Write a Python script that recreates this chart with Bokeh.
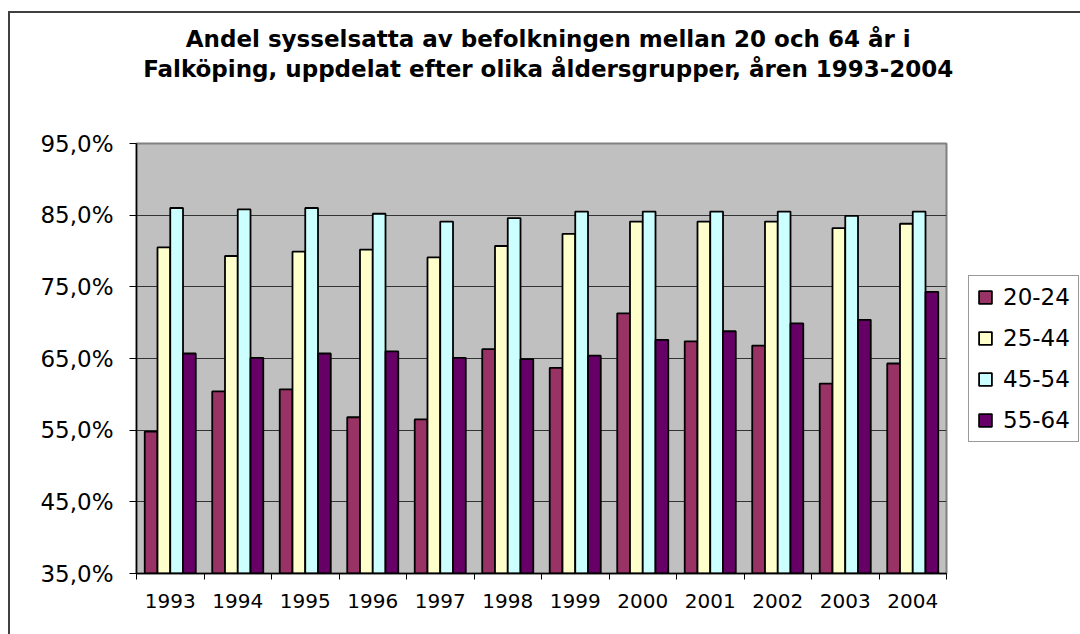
from bokeh.plotting import figure
from bokeh.models import (FixedTicker, Legend, LegendItem, LinearAxis)
from bokeh.embed import file_html
from bokeh.resources import INLINE

years = ["1993", "1994", "1995", "1996", "1997", "1998",
         "1999", "2000", "2001", "2002", "2003", "2004"]
series_names = ["20-24", "25-44", "45-54", "55-64"]
v_20_24 = [54.8, 60.4, 60.7, 56.8, 56.5, 66.3, 63.7, 71.3, 67.4, 66.8, 61.5, 64.3]
v_25_44 = [80.5, 79.3, 79.9, 80.2, 79.1, 80.7, 82.4, 84.1, 84.1, 84.1, 83.2, 83.8]
v_45_54 = [86.0, 85.8, 86.0, 85.2, 84.1, 84.6, 85.5, 85.5, 85.5, 85.5, 84.9, 85.5]
v_55_64 = [65.7, 65.1, 65.7, 66.0, 65.1, 64.9, 65.4, 67.6, 68.8, 69.9, 70.4, 74.3]
y_ticks = [35, 45, 55, 65, 75, 85, 95]
title_lines = ["Andel sysselsatta av befolkningen mellan 20 och 64 år i",
               "Falköping, uppdelat efter olika åldersgrupper, åren 1993-2004"]

colors = ["#993366", "#FFFFCC", "#CCFFFF", "#660066"]
all_values = [v_20_24, v_25_44, v_45_54, v_55_64]

FONT = "DejaVu Sans"

p = figure(frame_width=810, frame_height=430,
           output_backend="svg", toolbar_location=None,
           x_range=(0, len(years)), y_range=(35, 95),
           min_border_left=126, min_border_right=134,
           min_border_top=130, min_border_bottom=61)
p.styles = {"margin-left": "8px", "margin-top": "11px",
            "border-left": "2px solid #404040", "border-top": "2px solid #404040"}

p.background_fill_color = "#C0C0C0"
p.border_fill_color = "white"
p.outline_line_color = "#808080"
p.outline_line_width = 2

# two-line chart title drawn as label rows above the plot area
title_x = len(years) / 2 + 0.1
for line, standoff in [(title_lines[1], 62), (title_lines[0], 1)]:
    ax = LinearAxis(ticker=FixedTicker(ticks=[title_x], minor_ticks=[]),
                    major_label_overrides={title_x: line},
                    major_label_text_font=FONT, major_label_text_font_size="23px",
                    major_label_text_font_style="bold",
                    major_label_text_color="black",
                    major_label_standoff=standoff,
                    axis_line_color=None, major_tick_line_color=None,
                    minor_tick_line_color=None, major_tick_out=0, major_tick_in=0)
    p.add_layout(ax, "above")

w = 0.189
offsets = [-1.5 * w, -0.5 * w, 0.5 * w, 1.5 * w]
items = []
for name, vals, col, off in zip(series_names, all_values, colors, offsets):
    xs = [i + 0.5 + off for i in range(len(years))]
    r = p.vbar(x=xs, top=vals, bottom=35, width=w, fill_color=col,
               line_color="black", line_width=1.8)
    items.append(LegendItem(label=name, renderers=[r]))

# y axis
p.yaxis.ticker = FixedTicker(ticks=y_ticks)
p.yaxis.major_label_overrides = {t: f"{t},0%" for t in y_ticks}
p.yaxis.major_label_text_font = FONT
p.yaxis.major_label_text_font_size = "23px"
p.yaxis.major_label_text_color = "black"
p.yaxis.major_tick_out = 7
p.yaxis.major_tick_in = 0
p.yaxis.minor_tick_line_color = None
p.yaxis.axis_line_color = "black"
p.yaxis.axis_line_width = 1.5
p.yaxis.major_tick_line_color = "black"
p.yaxis.major_label_standoff = 16

# x axis (the bottom one)
xax = p.below[0]
centers = [i + 0.5 for i in range(len(years))]
xax.ticker = FixedTicker(ticks=centers, minor_ticks=list(range(len(years) + 1)))
xax.major_label_overrides = {c: y for c, y in zip(centers, years)}
xax.major_tick_line_color = None
xax.minor_tick_line_color = "black"
xax.minor_tick_out = 6
xax.minor_tick_in = 0
xax.major_label_text_font = FONT
xax.major_label_text_font_size = "20px"
xax.major_label_text_color = "black"
xax.axis_line_color = "black"
xax.axis_line_width = 1.5
xax.major_label_standoff = 14

p.xgrid.grid_line_color = None
p.ygrid.grid_line_color = "#333333"
p.ygrid.grid_line_width = 1

legend = Legend(items=items, location=(22, 131),
                label_text_font=FONT, label_text_font_size="23px",
                label_text_color="black",
                glyph_width=16, glyph_height=16, label_standoff=10,
                spacing=15, padding=8, margin=0,
                border_line_color="#333333", border_line_width=1,
                background_fill_color="white", background_fill_alpha=1)
p.add_layout(legend, "right")

open("out.html", "w").write(file_html(p, INLINE))
